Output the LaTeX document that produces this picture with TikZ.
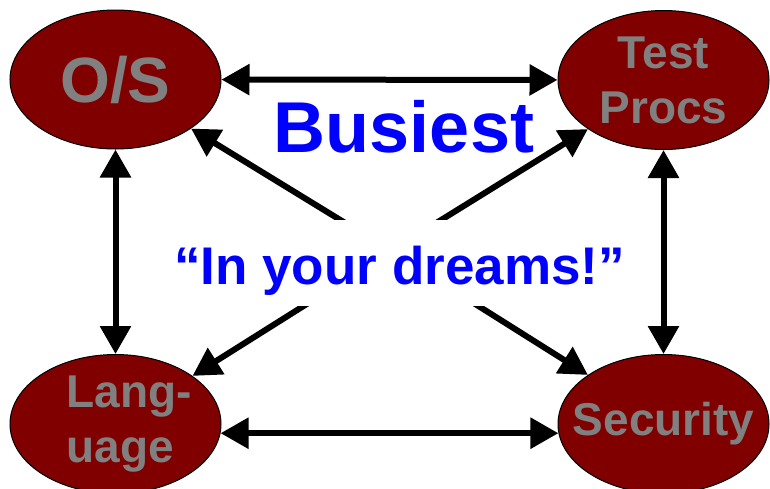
\documentclass[tikz,border=0pt]{standalone}
\usepackage{fontspec}
\setmainfont{Liberation Sans}
\usetikzlibrary{arrows.meta,shapes.geometric}
\definecolor{topicFill}{HTML}{800000}
\definecolor{topicText}{HTML}{808080}
\definecolor{noteBlue}{HTML}{0000FF}
\tikzset{
  topic/.style={
    ellipse, draw=black, line width=1pt, fill=topicFill,
    inner xsep=-25pt, inner ysep=0pt,
    minimum width=211pt, minimum height=139pt, text=topicText,
    font=\bfseries\fontsize{#1}{55}\selectfont, align=center},
  topic/.default=46,
  link/.style={draw=black, line width=6pt,
    -{Triangle[length=28pt,width=30pt]}},
  both/.style={link, {Triangle[length=28pt,width=30pt]}-{Triangle[length=28pt,width=30pt]}},
  note/.style={text=noteBlue, inner sep=0pt,
    font=\bfseries\fontsize{#1}{#1}\selectfont},
}

\begin{document}
\begin{tikzpicture}[x=1pt,y=-1pt]
\useasboundingbox (0,0) rectangle (770,488);

\node[topic=64] (os) at (115.5,79.5) {O/S};
\node[topic] (tp) at (663.5,80) {Test\\Procs};
\node[topic, align=left] (lang) at (115.5,424)
  {\hspace*{27pt}Lang-\\\hspace*{27pt}uage};
\node[topic] (sec) at (663.5,424) {Security};

\draw[both] (os) -- (tp);
\draw[both] (lang.-5) -- (sec.185);
\draw[both] (os) -- (lang);
\draw[both] (tp) -- (sec);

\coordinate (hub) at (391,251);
\foreach \dst in {os.-33, tp.213, lang.32, sec.147}
  \draw[link] (hub) -- (\dst);

\node[note=72, anchor=base] (busy) at (404,152) {Busiest};
\node[note=53, anchor=base, fill=white, text height=42pt, text depth=0pt,
      inner ysep=22pt, inner xsep=4pt] (dreams) at (399.5,284)
  {“In your dreams!”};

\end{tikzpicture}
\end{document}
